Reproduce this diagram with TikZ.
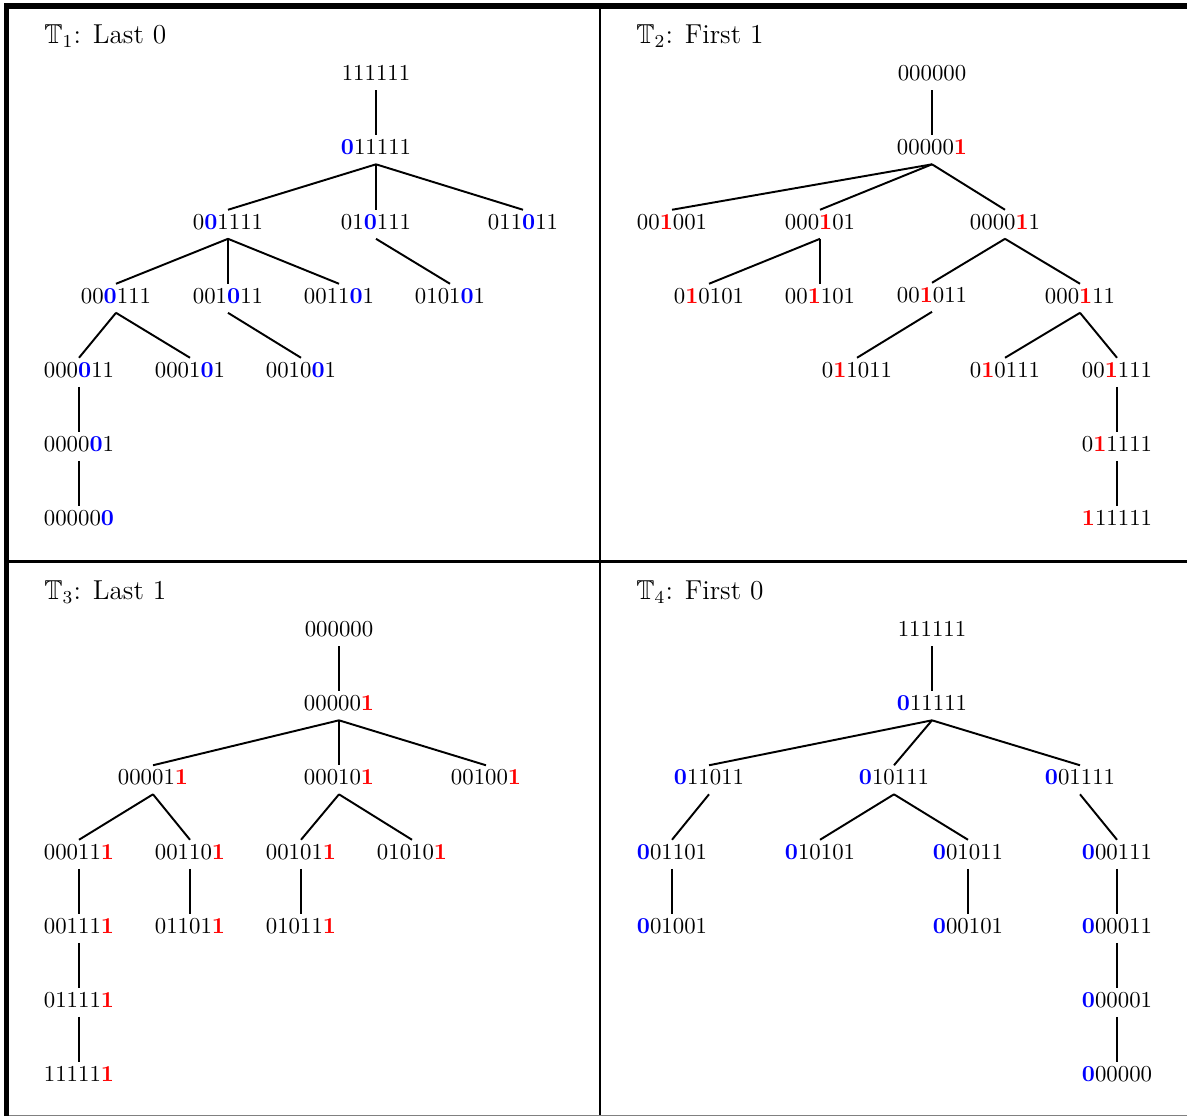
\documentclass[tikz,border=0pt]{standalone}
\usepackage{amssymb}
\usepackage{xcolor}
\newcommand{\zeroB}{\textcolor{blue}{\textbf{0}}}
\newcommand{\oneR}{\textcolor{red}{\textbf{1}}}
\begin{document}
\begin{tikzpicture}[x=0.4386pt,y=-0.4386pt,
  tn/.style={inner sep=1.8pt, text height=6.44pt, text depth=2.3pt, anchor=base},
  edge/.style={line width=0.85pt},
  ttl/.style={anchor=base west, inner sep=0pt, font=\large},
  frame/.style={line width=1.3pt},
  thickframe/.style={line width=2.2pt}]
\useasboundingbox (0,0) rectangle (1187,1116);
\fill[white] (0,0) rectangle (1187,1116);
% frame
\draw[frame] (600,6) -- (600,1116);
\draw[frame] (6,561.5) -- (1187,561.5);
\draw[gray, line width=0.5pt] (6,1115.3) -- (1187,1115.3);
\draw[thickframe] (6.5,4) -- (6.5,1116);
\draw[thickframe] (4,6) -- (1187,6);
% titles
\node[ttl] (t1) at (44,43.5) {$\mathbb{T}_1$: Last 0};
\node[ttl] (t2) at (636,43.5) {$\mathbb{T}_2$: First 1};
\node[ttl] (t3) at (44,599.5) {$\mathbb{T}_3$: Last 1};
\node[ttl] (t4) at (636,599.5) {$\mathbb{T}_4$: First 0};
% ---------- T1 ----------
\node[tn] (Ar) at (376,80.5) {111111};
\node[tn] (Aa) at (376,154.5) {\zeroB11111};
\node[tn] (Ab) at (228,229) {0\zeroB1111};
\node[tn] (Ac) at (376,229) {01\zeroB111};
\node[tn] (Ad) at (523,229) {011\zeroB11};
\node[tn] (Ae) at (116,303) {00\zeroB111};
\node[tn] (Af) at (228,303) {001\zeroB11};
\node[tn] (Ag) at (339,303) {0011\zeroB1};
\node[tn] (Ah) at (450,303) {0101\zeroB1};
\node[tn] (Ai) at (79,377) {000\zeroB11};
\node[tn] (Aj) at (190,377) {0001\zeroB1};
\node[tn] (Ak) at (301,377) {0010\zeroB1};
\node[tn] (Al) at (79,451) {0000\zeroB1};
\node[tn] (Am) at (79,525) {00000\zeroB};
\foreach \p/\c in {Ar/Aa,Aa/Ab,Aa/Ac,Aa/Ad,Ab/Ae,Ab/Af,Ab/Ag,Ac/Ah,Ae/Ai,Ae/Aj,Af/Ak,Ai/Al,Al/Am}
  \draw[edge] (\p.south) -- (\c.north);
% ---------- T2 ----------
\node[tn] (Br) at (932,80.5) {000000};
\node[tn] (Ba) at (932,154.5) {00000\oneR};
\node[tn] (Bb) at (672,229) {00\oneR001};
\node[tn] (Bc) at (820,229) {000\oneR01};
\node[tn] (Bd) at (1005,229) {0000\oneR1};
\node[tn] (Be) at (709,303) {0\oneR0101};
\node[tn] (Bf) at (820,303) {00\oneR101};
\node[tn] (Bg) at (932,302) {00\oneR011};
\node[tn] (Bh) at (1080,303) {000\oneR11};
\node[tn] (Bi) at (857,377) {0\oneR1011};
\node[tn] (Bj) at (1005,377) {0\oneR0111};
\node[tn] (Bk) at (1117,377) {00\oneR111};
\node[tn] (Bl) at (1117,451) {0\oneR1111};
\node[tn] (Bm) at (1117,525) {\oneR11111};
\foreach \p/\c in {Br/Ba,Ba/Bb,Ba/Bc,Ba/Bd,Bc/Be,Bc/Bf,Bd/Bg,Bd/Bh,Bg/Bi,Bh/Bj,Bh/Bk,Bk/Bl,Bl/Bm}
  \draw[edge] (\p.south) -- (\c.north);
% ---------- T3 ----------
\node[tn] (Cr) at (339,636.5) {000000};
\node[tn] (Ca) at (339,710.5) {00000\oneR};
\node[tn] (Cb) at (153,784.5) {00001\oneR};
\node[tn] (Cc) at (339,784.5) {00010\oneR};
\node[tn] (Cd) at (486,784.5) {00100\oneR};
\node[tn] (Ce) at (79,859) {00011\oneR};
\node[tn] (Cf) at (190,859) {00110\oneR};
\node[tn] (Cg) at (301,859) {00101\oneR};
\node[tn] (Ch) at (412,859) {01010\oneR};
\node[tn] (Ci) at (79,933) {00111\oneR};
\node[tn] (Cj) at (190,933) {01101\oneR};
\node[tn] (Ck) at (301,933) {01011\oneR};
\node[tn] (Cl) at (79,1007) {01111\oneR};
\node[tn] (Cm) at (79,1081) {11111\oneR};
\foreach \p/\c in {Cr/Ca,Ca/Cb,Ca/Cc,Ca/Cd,Cb/Ce,Cb/Cf,Cc/Cg,Cc/Ch,Ce/Ci,Cf/Cj,Cg/Ck,Ci/Cl,Cl/Cm}
  \draw[edge] (\p.south) -- (\c.north);
% ---------- T4 ----------
\node[tn] (Dr) at (932,636.5) {111111};
\node[tn] (Da) at (932,710.5) {\zeroB11111};
\node[tn] (Db) at (709,784.5) {\zeroB11011};
\node[tn] (Dc) at (894,784.5) {\zeroB10111};
\node[tn] (Dd) at (1080,784.5) {\zeroB01111};
\node[tn] (De) at (672,859) {\zeroB01101};
\node[tn] (Df) at (820,859) {\zeroB10101};
\node[tn] (Dg) at (968,859) {\zeroB01011};
\node[tn] (Dh) at (1117,859) {\zeroB00111};
\node[tn] (Di) at (672,933) {\zeroB01001};
\node[tn] (Dj) at (968,933) {\zeroB00101};
\node[tn] (Dk) at (1117,933) {\zeroB00011};
\node[tn] (Dl) at (1117,1007) {\zeroB00001};
\node[tn] (Dm) at (1117,1081) {\zeroB00000};
\foreach \p/\c in {Dr/Da,Da/Db,Da/Dc,Da/Dd,Db/De,Dc/Df,Dc/Dg,Dd/Dh,De/Di,Dg/Dj,Dh/Dk,Dk/Dl,Dl/Dm}
  \draw[edge] (\p.south) -- (\c.north);
\end{tikzpicture}
\end{document}
